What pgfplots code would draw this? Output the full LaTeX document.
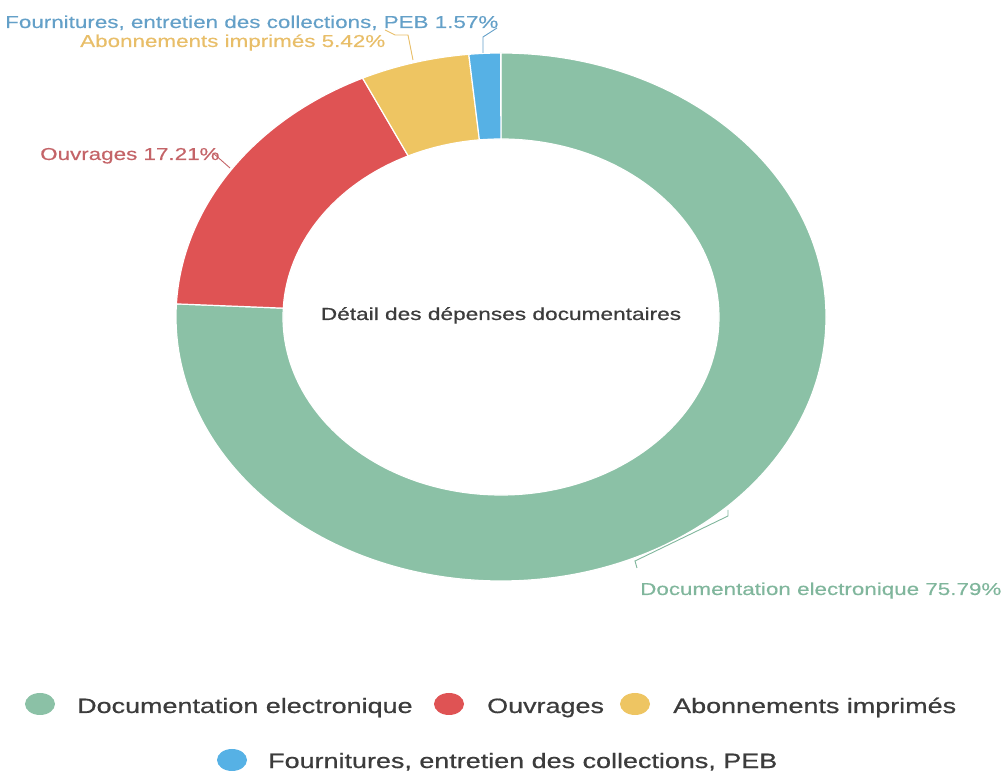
\documentclass[border=0pt]{standalone}
\usepackage{pgfplots}
\pgfplotsset{compat=1.18}
\usepackage{pgfplotstable}
\usepackage{fontspec}
\setmainfont{Liberation Sans}[FakeStretch=1.3]
\newfontfamily\medfont{Liberation Sans}[FakeStretch=1.3, FakeBold=0.7]
\newfontfamily\labfont{Liberation Sans}[FakeStretch=1.3, FakeBold=0.4]

\definecolor{cdoc}{RGB}{139,193,166}
\definecolor{couv}{RGB}{223,83,84}
\definecolor{cabo}{RGB}{238,197,98}
\definecolor{cfou}{RGB}{86,177,229}
\definecolor{ldoc}{RGB}{128,182,156}
\definecolor{louv}{RGB}{196,100,104}
\definecolor{labo}{RGB}{232,190,105}
\definecolor{lfou}{RGB}{100,160,200}
\definecolor{txt}{RGB}{60,60,60}

\pgfplotstableread{
share
75.79
17.21
5.42
1.57
}\piedata

\newcommand\getshare[2]{\pgfplotstablegetelem{#1}{share}\of\piedata\pgfmathsetmacro#2{\pgfplotsretval}}
\getshare{0}\sA
\getshare{1}\sB
\getshare{2}\sC
\getshare{3}\sD
\pgfmathsetmacro\aA{90}
\pgfmathsetmacro\aB{\aA-3.6*\sA}
\pgfmathsetmacro\aC{\aB-3.6*\sB}
\pgfmathsetmacro\aD{\aC-3.6*\sC}
\pgfmathsetmacro\aE{\aD-3.6*\sD}

\def\cx{501}\def\cy{456}\def\rx{325}\def\ry{264}\def\rix{218}\def\riy{178}

\newcommand\slice[3]{\fill[#1,draw=white,line width=1.2bp]
  (axis cs:{\cx+\rx*cos(#2)},{\cy+\ry*sin(#2)})
  arc[start angle=#2,end angle=#3,x radius=\rx bp,y radius=\ry bp]
  -- (axis cs:{\cx+\rix*cos(#3)},{\cy+\riy*sin(#3)})
  arc[start angle=#3,end angle=#2,x radius=\rix bp,y radius=\riy bp] -- cycle;}

\newcommand\lab{\labfont\fontsize{17.3}{20}\selectfont}
\newcommand\ttl{\medfont\fontsize{17.5}{20}\selectfont}
\newcommand\leg{\medfont\fontsize{20.8}{24}\selectfont}

\begin{document}
\begin{tikzpicture}
\begin{axis}[
  width=1006bp, height=773bp, scale only axis,
  xmin=0, xmax=1006, ymin=0, ymax=773,
  hide axis, clip=false,
]
\slice{cdoc}{\aA}{\aB}
\slice{couv}{\aB}{\aC}
\slice{cabo}{\aC}{\aD}
\slice{cfou}{\aD}{\aE}

% leader lines
\draw[ldoc, line width=0.9bp] (axis cs:728,263) -- (axis cs:728,257) -- (axis cs:635,212) -- (axis cs:637,205);
\draw[louv, line width=0.9bp] (axis cs:213,620) -- (axis cs:230,605);
\draw[labo, line width=0.9bp] (axis cs:385,743) -- (axis cs:395,738) -- (axis cs:408,738) -- (axis cs:413,713);
\draw[lfou, line width=0.9bp] (axis cs:483,720) -- (axis cs:483,736) -- (axis cs:497,745);

% data labels
\node[anchor=base west, inner sep=0, text=lfou, font=\lab] at (axis cs:5,745) {Fournitures, entretien des collections, PEB 1.57\%};
\node[anchor=base west, inner sep=0, text=labo, font=\lab] at (axis cs:80,726) {Abonnements imprimés 5.42\%};
\node[anchor=base west, inner sep=0, text=louv, font=\lab] at (axis cs:40,613) {Ouvrages 17.21\%};
\node[anchor=base west, inner sep=0, text=ldoc, font=\lab] at (axis cs:640,178) {Documentation electronique 75.79\%};

% centre title
\node[anchor=base, inner sep=0, text=txt, font=\ttl] at (axis cs:501,453) {Détail des dépenses documentaires};

% legend
\fill[cdoc] (axis cs:40,69) ellipse [x radius=15bp, y radius=11bp];
\node[anchor=base west, inner sep=0, text=txt, font=\leg] at (axis cs:77,60) {Documentation electronique};
\fill[couv] (axis cs:449,69) ellipse [x radius=15bp, y radius=11bp];
\node[anchor=base west, inner sep=0, text=txt, font=\leg] at (axis cs:487,60) {Ouvrages};
\fill[cabo] (axis cs:635,69) ellipse [x radius=15bp, y radius=11bp];
\node[anchor=base west, inner sep=0, text=txt, font=\leg] at (axis cs:673,60) {Abonnements imprimés};
\fill[cfou] (axis cs:232,13) ellipse [x radius=15bp, y radius=11bp];
\node[anchor=base west, inner sep=0, text=txt, font=\leg] at (axis cs:268,5) {Fournitures, entretien des collections, PEB};
\end{axis}
\pgfresetboundingbox
\path (0,0) rectangle (1006bp,773bp);
\end{tikzpicture}
\end{document}
